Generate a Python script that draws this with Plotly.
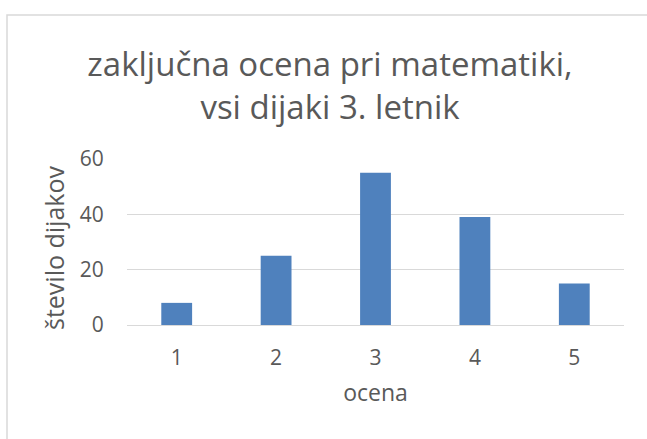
import plotly.graph_objects as go

categories = ["1", "2", "3", "4", "5"]
values = [8, 25, 55, 39, 15]
y_ticks = [0, 20, 40, 60]

title_text = "zaključna ocena pri matematiki,<br>vsi dijaki 3. letnik"
x_title = "ocena"
y_title = "število dijakov"

FONT = "Open Sans"
GRAY = "#595959"

L, R, T, B = 127, 23, 159, 114
W = 647 - L - R
H = 439 - T - B

fig = go.Figure(
    go.Bar(
        x=categories,
        y=values,
        marker=dict(color="#4F81BD", line=dict(width=0)),
        width=0.31,
    )
)

fig.update_layout(
    width=647,
    height=439,
    margin=dict(l=L, r=R, t=T, b=B),
    paper_bgcolor="white",
    plot_bgcolor="white",
    showlegend=False,
    font=dict(family=FONT, color=GRAY),
    title=dict(
        text=title_text,
        x=330 / 647,
        xanchor="center",
        y=1 - 76 / 439,
        yanchor="middle",
        font=dict(family=FONT, size=33, color=GRAY),
    ),
    xaxis=dict(
        type="category",
        showgrid=False,
        showline=False,
        ticks="outside",
        ticklen=14,
        tickcolor="rgba(0,0,0,0)",
        tickfont=dict(size=21, color=GRAY),
        title=dict(text=x_title, font=dict(size=23, color=GRAY), standoff=14),
    ),
    yaxis=dict(
        range=[0, 60],
        tickvals=y_ticks,
        showgrid=True,
        gridcolor="#D9D9D9",
        gridwidth=1.3,
        zeroline=True,
        zerolinecolor="#D9D9D9",
        zerolinewidth=1.3,
        showline=False,
        ticks="outside",
        ticklen=18,
        tickcolor="rgba(0,0,0,0)",
        tickfont=dict(size=21, color=GRAY),
    ),
    annotations=[
        dict(
            text=y_title,
            textangle=-90,
            xref="paper",
            yref="paper",
            x=(54 - L) / W,
            y=(T + H - 248) / H,
            xanchor="center",
            yanchor="middle",
            showarrow=False,
            font=dict(family=FONT, size=25, color=GRAY),
        )
    ],
    shapes=[
        dict(
            type="rect",
            xref="paper",
            yref="paper",
            x0=(7 - L) / W,
            x1=(660 - L) / W,
            y0=(T + H - 450) / H,
            y1=(T + H - 15) / H,
            line=dict(color="#D9D9D9", width=1.5),
            fillcolor="rgba(0,0,0,0)",
            layer="below",
        )
    ],
)

fig.write_html(
    "out.html",
    config={"displayModeBar": False},
    post_script="document.body.style.margin='0';",
)
